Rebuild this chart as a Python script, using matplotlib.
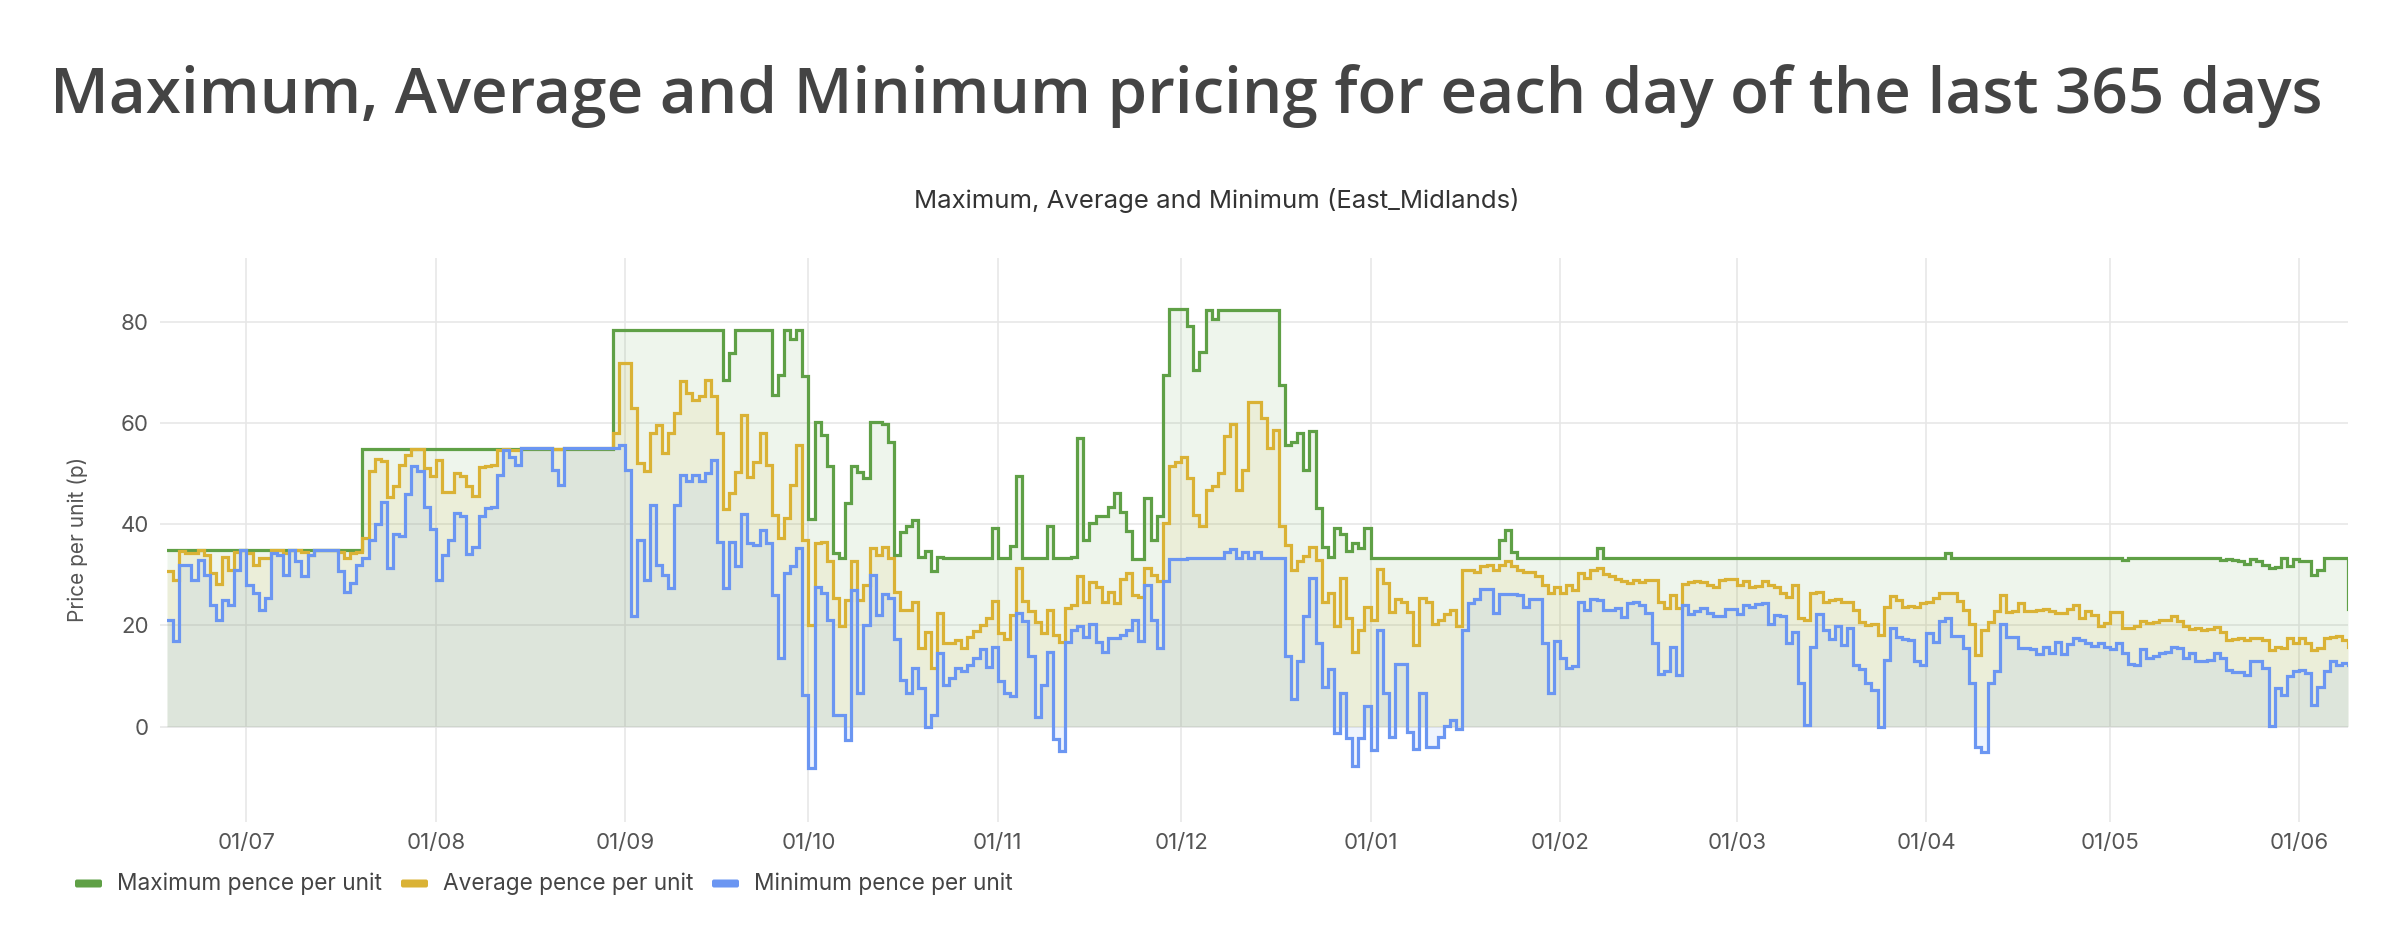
import matplotlib
matplotlib.use("Agg")
import matplotlib.pyplot as plt
import matplotlib.dates as mdates
from matplotlib.patches import FancyBboxPatch
import pandas as pd

# ---------------- data ----------------
start_date = "2023-06-18"

max_pence = [
    35, 35, 35, 35, 35, 35, 35, 35, 35, 35, 35, 35, 35, 35, 35, 35, 35, 35, 35, 35,
    35, 35, 35, 35, 35, 35, 35, 35, 35, 35, 35, 35, 55, 55, 55, 55, 55, 55, 55, 55,
    55, 55, 55, 55, 55, 55, 55, 55, 55, 55, 55, 55, 55, 55, 55, 55, 55, 55, 55, 55,
    55, 55, 55, 55, 55, 55, 55, 55, 55, 55, 55, 55, 55, 78.5, 78.5, 78.5, 78.5, 78.5, 78.5, 78.5,
    78.5, 78.5, 78.5, 78.5, 78.5, 78.5, 78.5, 78.5, 78.5, 78.5, 78.5, 68.6, 73.9, 78.5, 78.5, 78.5, 78.5, 78.5, 78.5, 65.6,
    69.6, 78.4, 76.6, 78.4, 69.3, 41, 60.2, 57.7, 51.6, 34.3, 33.3, 44.2, 51.6, 50.3, 49.1, 60.2, 60.2, 59.9, 56.2, 34,
    38.4, 39.6, 40.8, 33.6, 34.8, 30.7, 33.6, 33.3, 33.3, 33.3, 33.3, 33.3, 33.3, 33.3, 33.3, 39.2, 33.3, 33.3, 35.8, 49.6,
    33.4, 33.4, 33.4, 33.4, 39.6, 33.3, 33.3, 33.3, 33.5, 57.1, 36.9, 40.2, 41.6, 41.6, 43.5, 46.3, 42.5, 38.6, 33.1, 33.1,
    45.2, 36.9, 41.6, 69.6, 82.6, 82.6, 82.6, 79.3, 70.6, 74.2, 82.5, 80.6, 82.5, 82.5, 82.5, 82.5, 82.5, 82.5, 82.5, 82.5,
    82.5, 82.5, 67.6, 55.7, 56.3, 58, 50.8, 58.4, 43.2, 35.5, 33.6, 39.2, 38.1, 34.8, 36.3, 35.3, 39.2, 33.3, 33.3, 33.3,
    33.3, 33.3, 33.3, 33.3, 33.3, 33.3, 33.3, 33.3, 33.3, 33.3, 33.3, 33.3, 33.3, 33.3, 33.3, 33.3, 33.3, 33.3, 36.9, 38.9,
    34.6, 33.3, 33.3, 33.3, 33.3, 33.3, 33.3, 33.3, 33.3, 33.3, 33.3, 33.3, 33.3, 33.3, 35.3, 33.3, 33.3, 33.3, 33.3, 33.3,
    33.3, 33.3, 33.3, 33.3, 33.3, 33.3, 33.3, 33.3, 33.3, 33.3, 33.3, 33.3, 33.3, 33.3, 33.3, 33.3, 33.3, 33.3, 33.3, 33.3,
    33.3, 33.3, 33.3, 33.3, 33.3, 33.3, 33.3, 33.3, 33.3, 33.3, 33.3, 33.3, 33.3, 33.3, 33.3, 33.3, 33.3, 33.3, 33.3, 33.3,
    33.3, 33.3, 33.3, 33.3, 33.3, 33.3, 33.3, 33.3, 33.3, 33.3, 33.3, 34.3, 33.3, 33.3, 33.3, 33.3, 33.3, 33.3, 33.3, 33.3,
    33.3, 33.3, 33.3, 33.3, 33.3, 33.3, 33.3, 33.3, 33.3, 33.3, 33.3, 33.3, 33.3, 33.3, 33.3, 33.3, 33.3, 33.3, 33.3, 33.3,
    33, 33.3, 33.3, 33.3, 33.3, 33.3, 33.3, 33.3, 33.3, 33.3, 33.3, 33.3, 33.3, 33.3, 33.3, 33.3, 33, 33.1, 33, 32.7,
    32.2, 33.1, 32.7, 31.9, 31.3, 31.5, 33.3, 31.8, 33.2, 32.7, 32.7, 30, 31, 33.3, 33.3, 33.3, 33.3, 23.2,
]

avg_pence = [
    30.7, 29, 34.8, 34.3, 34.3, 35, 34, 30.3, 28.2, 33.6, 31, 34.6, 35, 34.3, 32, 33.3, 33.4, 35, 35, 34.3,
    35, 35, 34.6, 34, 35, 35, 35, 35, 34.6, 33.3, 34.3, 34.6, 37.3, 50.5, 52.9, 52.6, 45.5, 47.5, 51.8, 53.8,
    54.9, 54.9, 51.1, 49.5, 52.8, 46.5, 46.5, 50.1, 49.6, 47.5, 45.6, 51.3, 51.6, 51.8, 54.7, 55, 54.7, 54.7, 55.1, 55.1,
    55.1, 55.1, 55.1, 54.9, 55, 55.1, 55.1, 55.1, 55.1, 55.1, 55.1, 55.1, 55.1, 58, 72, 72, 63, 52.2, 50.5, 58,
    59.7, 54.2, 58, 62, 68.3, 66, 64.6, 65.3, 68.6, 65.3, 58, 43, 46.2, 50.3, 61.7, 49.3, 52.4, 58, 51.8, 41.9,
    37.3, 41.2, 47.8, 55.7, 36.9, 20.1, 36.4, 36.6, 32.7, 25.4, 19.8, 25.1, 32.7, 25.1, 28, 35.3, 34, 35.5, 33.3, 26.7,
    23.1, 23.1, 24.7, 15.5, 18.8, 11.5, 22.4, 16.5, 16.5, 17.2, 15.5, 17.8, 19, 20.1, 21.4, 24.9, 18.5, 17.3, 22.1, 31.3,
    24.9, 22.8, 20.6, 18.5, 23.1, 18.1, 16.8, 23.4, 24.1, 29.8, 24.7, 28.5, 27.6, 24.7, 26.7, 24.4, 29.2, 30.3, 26.1, 25.6,
    31.3, 30, 28.7, 40.2, 51.5, 52.4, 53.4, 49.1, 41.9, 39.6, 46.8, 47.5, 50.1, 57.4, 59.9, 46.8, 50.8, 64.2, 64.2, 61,
    55.1, 58.7, 39.6, 36, 31, 32.7, 33.8, 35.5, 33, 24.7, 26.5, 19.8, 29.4, 21.4, 14.8, 19.1, 23.7, 21.1, 31.1, 28.4,
    22.6, 25.2, 24.7, 22.6, 16.2, 25.4, 24.7, 20.3, 21.1, 22.3, 23, 19.8, 31, 31, 30.5, 31.7, 32, 30.9, 32, 32.7,
    31.8, 31, 30.5, 30.5, 29.7, 28, 26.4, 27.6, 26.5, 28, 27, 30.3, 29.4, 31, 31.3, 30.2, 29.8, 29.2, 28.7, 28.4,
    29, 28.5, 28.9, 29, 24.7, 23.4, 26.1, 23.4, 28.2, 28.5, 28.7, 28.5, 28, 27.6, 29, 29.2, 29.2, 28, 28.7, 27.6,
    27.9, 28.7, 28, 27.7, 26.4, 25.7, 28, 21.4, 21.1, 26.4, 26.7, 24.7, 25.1, 25.2, 24.7, 24.7, 23, 20.6, 20.1, 20.3,
    18.1, 23.7, 25.9, 25.1, 23.7, 23.8, 23.7, 24.4, 24.7, 25.4, 26.4, 26.4, 26.4, 24.9, 23.1, 20.3, 14.2, 19.1, 20.6, 22.8,
    26.1, 22.6, 22.9, 24.4, 22.8, 22.9, 23.1, 23.2, 22.9, 22.4, 22.5, 23.2, 24.1, 21.4, 22.8, 22.1, 19.9, 20.4, 22.6, 22.6,
    19.5, 19.5, 19.8, 20.8, 20.4, 20.6, 21.1, 21, 21.9, 20.8, 19.8, 19.3, 19.5, 19.1, 19.3, 19.7, 18.8, 17.2, 17.3, 17.5,
    17.2, 17.5, 17.5, 17.2, 15.2, 15.8, 15.5, 17.5, 16.5, 17.5, 16.5, 15.2, 15.5, 17.5, 17.8, 17.9, 17.2, 15.7,
]

min_pence = [
    21, 17, 32, 32, 29, 33, 30, 24, 21, 25, 24, 31, 35, 28, 26.5, 23, 25.5, 34.3, 34, 30,
    35, 32.7, 29.7, 34, 35, 35, 35, 35, 30.7, 26.7, 28.4, 32, 33.3, 37, 40, 44.5, 31.3, 38, 37.7, 46,
    51.5, 50.5, 43.4, 39, 29, 34, 36.9, 42.2, 41.6, 34.2, 35.6, 41.6, 43.2, 43.5, 49.8, 54.7, 53.4, 51.8, 55.1, 55.1,
    55.1, 55.1, 55.1, 50.8, 47.8, 55.1, 55.1, 55.1, 55.1, 55.1, 55.1, 55.1, 55.1, 55.1, 55.7, 50.8, 21.9, 36.9, 29, 43.9,
    32, 30, 27.4, 43.9, 49.8, 48.5, 49.8, 48.5, 50.1, 52.8, 36.6, 27.4, 36.6, 31.8, 42, 36.3, 36, 38.9, 36.3, 26.1,
    13.5, 30.3, 31.7, 35.3, 6.3, -8.2, 27.6, 26.4, 21.1, 2.3, 2.3, -2.6, 27, 6.6, 20.1, 30, 22.1, 26.3, 25.4, 17.3,
    9.2, 6.6, 11.5, 7.6, 0, 2.3, 14.6, 8.2, 9.6, 11.5, 10.9, 12.2, 13.5, 15.3, 11.7, 15.7, 9.1, 6.7, 6.1, 22.4,
    20.8, 14, 1.8, 8.2, 14.8, -2.5, -4.9, 16.8, 19.1, 19.9, 17.7, 20.3, 16.8, 14.8, 17.5, 17.5, 18.1, 19.1, 21.1, 17,
    28, 21.1, 15.5, 28.7, 33.1, 33.1, 33.1, 33.4, 33.3, 33.3, 33.3, 33.3, 33.3, 34.6, 35.1, 33.3, 34.6, 33.3, 34.6, 33.3,
    33.3, 33.3, 33.3, 14, 5.4, 12.9, 21.8, 29.4, 16.5, 7.9, 11.3, -1.3, 6.6, -2.3, -7.9, -2.3, 4, -4.6, 19.1, 6.6,
    -2, 12.4, 12.4, -1, -4.5, 6.6, -4.1, -4.1, -2, 0.1, 1.2, -0.5, 19.1, 24.4, 25.2, 27.2, 27.2, 22.4, 26.3, 26.3,
    26.2, 26.1, 23.7, 25.2, 25.2, 16.5, 6.6, 17, 13.5, 11.5, 12, 24.7, 23.1, 25.2, 25.1, 23.1, 23.1, 23.4, 21.6, 24.5,
    24.7, 24.1, 22.4, 16.5, 10.4, 10.9, 15.8, 10.2, 24.1, 22.3, 22.8, 23.4, 22.4, 21.8, 21.8, 23.2, 23.2, 22.3, 24.1, 23.7,
    24.3, 24.5, 20.3, 22.1, 21.8, 16.5, 18.8, 8.7, 0.3, 15.7, 22.3, 19.1, 17.3, 19.9, 16.2, 19.5, 12.2, 11.3, 8.6, 7.3,
    -0.1, 13.1, 19.5, 17.7, 17.3, 17.2, 12.9, 12.2, 18.5, 16.8, 20.8, 21.4, 17.9, 17.9, 15.5, 8.7, -4.1, -5.1, 8.7, 10.9,
    20.3, 17.8, 17.8, 15.5, 15.5, 15.3, 14.4, 15.8, 14.6, 16.8, 14.4, 16.3, 17.5, 17.2, 16.6, 16, 16.5, 15.8, 15.3, 16.5,
    14.5, 12.4, 12.2, 15.3, 13.5, 14, 14.5, 14.8, 15.7, 15.6, 13.5, 14.5, 12.9, 12.9, 13.2, 14.5, 13.5, 11.1, 10.7, 10.7,
    10.2, 12.9, 12.9, 11.5, 0.1, 7.6, 6.3, 10, 10.9, 11.2, 10.6, 4.3, 7.9, 10.9, 12.9, 12.2, 12.5, 12.2,
]

series_names = ["Maximum pence per unit", "Average pence per unit", "Minimum pence per unit"]
y_ticks = [0, 20, 40, 60, 80]
page_title = "Maximum, Average and Minimum pricing for each day of the last 365 days"
chart_title = "Maximum, Average and Minimum (East_Midlands)"
y_label = "Price per unit (p)"

# ---------------- styling ----------------
colors = ["#5fa046", "#dab235", "#6b96f2"]
grid_c = "#e6e6e6"
W, H = 2400, 930

fig = plt.figure(figsize=(W / 100, H / 100), dpi=100)
fig.patch.set_facecolor("white")

left_px, right_px, top_px, bot_px = 167, 2348, 258, 815
ax = fig.add_axes([left_px / W, 1 - bot_px / H, (right_px - left_px) / W, (bot_px - top_px) / H])

dates = pd.date_range(start_date, periods=len(max_pence), freq="D")
x = mdates.date2num(dates.to_pydatetime())

series = [max_pence, avg_pence, min_pence]
for vals, c in zip(series, colors):
    ax.fill_between(x, vals, 0, step="post", color=c, alpha=0.10, linewidth=0, zorder=2)
for i, (vals, c) in enumerate(zip(series, colors)):
    ax.step(x, vals, where="post", color=c, lw=2.3, zorder=3 + i, solid_joinstyle="miter")

ax.set_xlim(x[0], x[-1])
ax.set_ylim(-17.5, 92.7)
ax.set_yticks(y_ticks)
ax.xaxis.set_major_locator(mdates.MonthLocator(bymonthday=1))
ax.xaxis.set_major_formatter(mdates.DateFormatter("%d/%m"))

ax.grid(True, color=grid_c, lw=1.1, zorder=0)
ax.set_axisbelow(True)
for s in ax.spines.values():
    s.set_visible(False)
ax.tick_params(axis="both", length=5, width=1.1, color=grid_c, labelcolor="#555555",
               labelsize=16, pad=8)
for lab in ax.get_xticklabels() + ax.get_yticklabels():
    lab.set_fontfamily(["Inter", "DejaVu Sans"])

# titles
fig.text(1186 / W, 1 - 113 / H, page_title, ha="center", va="baseline",
         fontsize=45.9, fontweight="semibold", color="#444444",
         family=["Open Sans", "DejaVu Sans"])
fig.text(1217 / W, 1 - 208 / H, chart_title, ha="center", va="baseline",
         fontsize=18.5, color="#333333", family=["Inter", "DejaVu Sans"])
fig.text(78 / W, 1 - 539 / H, y_label, ha="center", va="center", rotation=90,
         fontsize=15, color="#555555", family=["Inter", "DejaVu Sans"])

# legend (manual, Chart.js style)
leg_y = 883.5
sw_x = [75, 401, 712]
tx_x = [117, 443, 754]
for sx, tx, c, name in zip(sw_x, tx_x, colors, series_names):
    fig.patches.append(FancyBboxPatch(((sx) / 100, (H - leg_y - 4) / 100), 0.27, 0.08,
                                      boxstyle="round,pad=0,rounding_size=0.02",
                                      transform=fig.dpi_scale_trans, facecolor=c,
                                      edgecolor="none"))
    fig.text(tx / W, 1 - leg_y / H, name, ha="left", va="center", fontsize=16.3,
             color="#444444", family=["Inter", "DejaVu Sans"])

fig.savefig("out.png", dpi=100, facecolor="white")
